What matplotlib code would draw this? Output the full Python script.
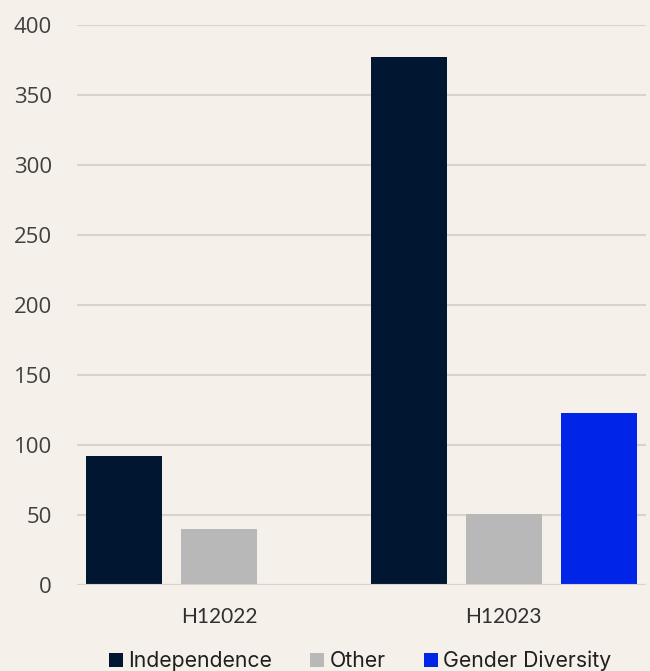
import numpy as np
import matplotlib.pyplot as plt
from matplotlib.patches import Patch

# Данные
categories = ["H12022", "H12023"]
series_names = ["Independence", "Other", "Gender Diversity"]
independence = [92, 377]
other = [40, 51]
gender_diversity = [0, 123]
colors = ["#001631", "#B8B8B8", "#0025E6"]
y_ticks = [0, 50, 100, 150, 200, 250, 300, 350, 400]

bg = "#F5F1EA"
text_col = "#404040"

fig = plt.figure(figsize=(6.5, 6.71), dpi=100, facecolor=bg)
ax = fig.add_axes([77 / 650, 86 / 671, 569 / 650, 560 / 671], facecolor=bg)

x = np.arange(len(categories))
w = 0.267
step = 0.334
values = [independence, other, gender_diversity]
for i, (vals, col) in enumerate(zip(values, colors)):
    ax.bar(x + (i - 1) * step, vals, width=w, color=col, zorder=3)

ax.set_xlim(-0.5, 1.5)
ax.set_ylim(0, 400)
ax.set_yticks(y_ticks)
ax.yaxis.grid(True, color="#D8D4CD", lw=1.5, zorder=0)
ax.set_axisbelow(True)
for s in ax.spines.values():
    s.set_visible(False)
ax.axhline(0, color="#D8D4CD", lw=1.5, zorder=4)
ax.tick_params(axis="both", length=0)
ax.tick_params(axis="y", pad=18, labelsize=16, labelcolor=text_col)
ax.tick_params(axis="x", pad=16, labelsize=15, labelcolor="#303030")
for lab in ax.get_yticklabels():
    lab.set_fontfamily("Open Sans")
ax.set_xticks(x)
ax.set_xticklabels(categories, family="Lato")

# легенда снизу
handles = [Patch(facecolor=c) for c in colors]
fig.legend(handles, series_names, loc="center", bbox_to_anchor=(360 / 650, 10 / 671),
           ncol=3, frameon=False, handlelength=0.65, handleheight=0.65,
           handletextpad=0.25, columnspacing=1.8,
           prop={"family": "Inter", "size": 15.3}, labelcolor="#202020")

fig.savefig("out.png", facecolor=bg)
